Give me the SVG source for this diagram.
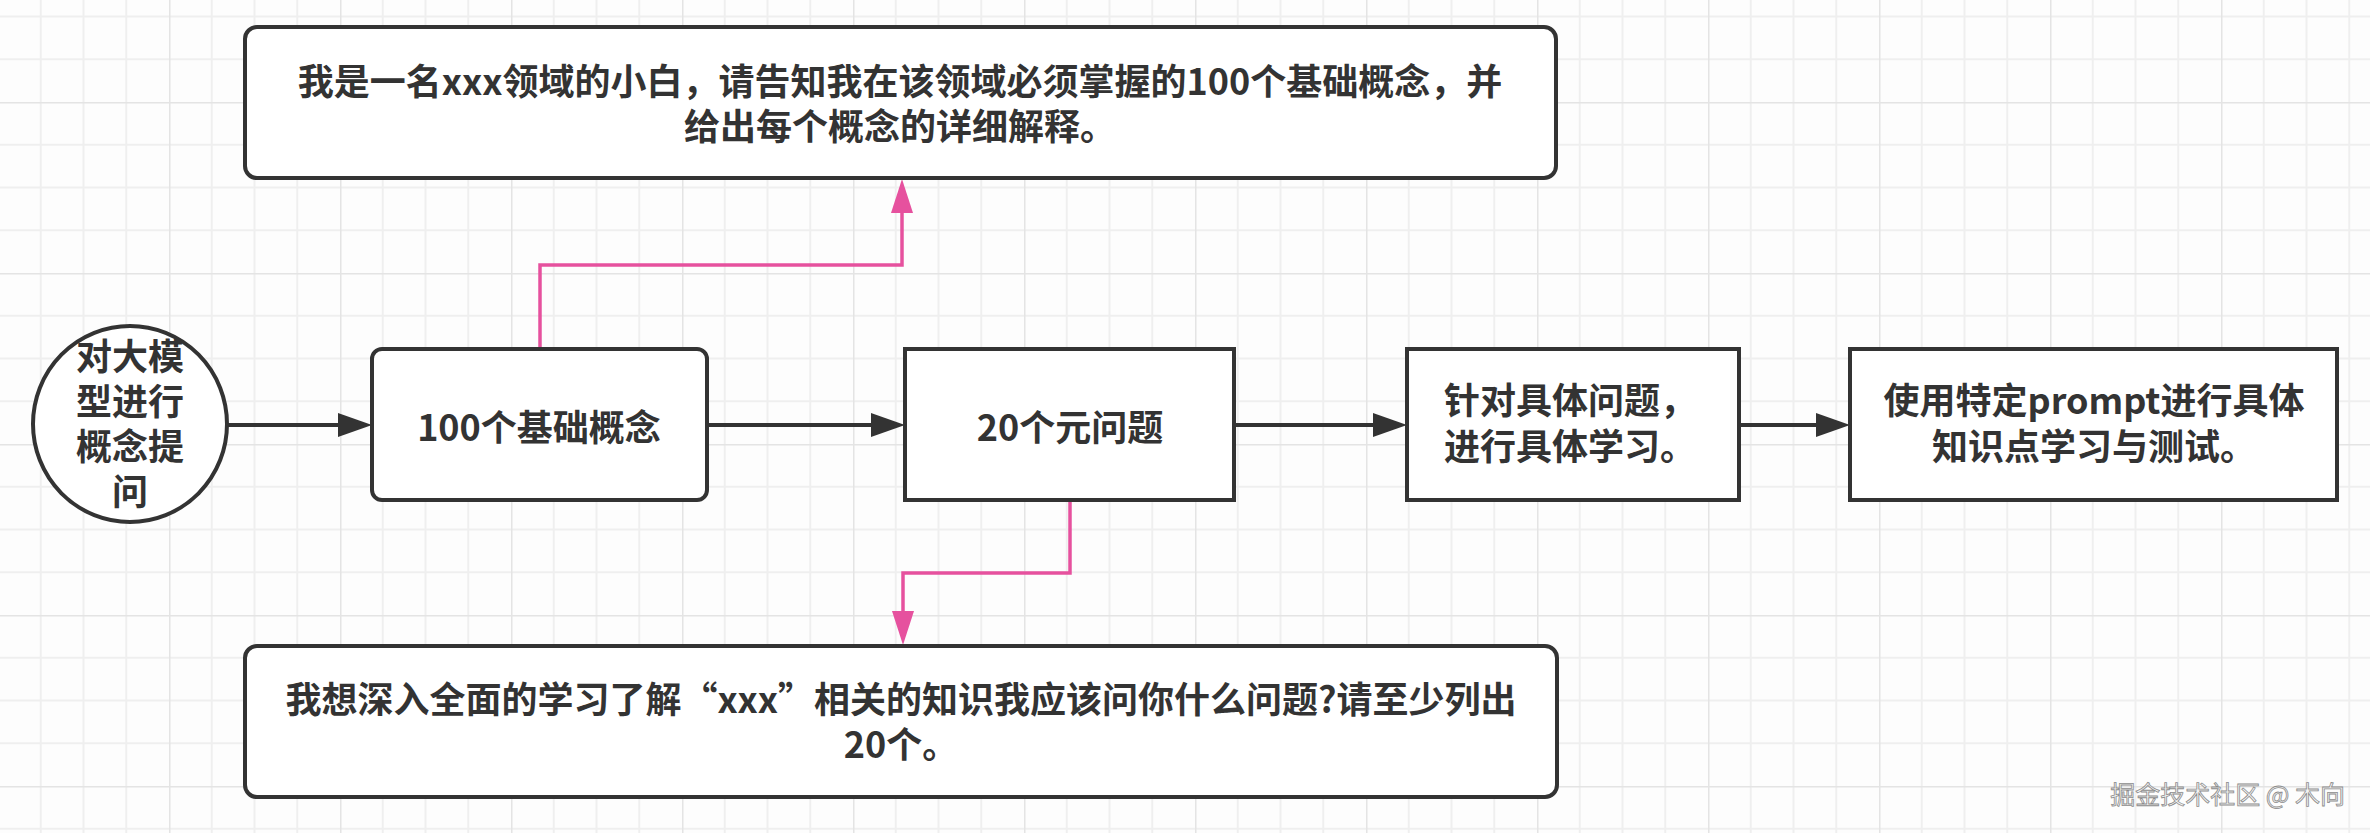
<svg xmlns="http://www.w3.org/2000/svg" width="2370" height="833" viewBox="0 0 2370 833">
<style>
.node{fill:#ffffff;stroke:#333333;stroke-width:4}
.t{font-family:"Noto Sans CJK SC","Noto Sans",sans-serif;font-weight:bold;font-size:36px;fill:#333333;text-anchor:middle}
.dark{fill:none;stroke:#333333;stroke-width:4}
.pink{fill:none;stroke:#E6519E;stroke-width:3.5}
.wm{font-family:"Noto Sans CJK SC","Noto Sans",sans-serif;font-size:25px;fill:#f4f4f4;stroke:#8c8c8c;stroke-width:0.8;text-anchor:end}
</style>
<defs>
<pattern id="grid" patternUnits="userSpaceOnUse" x="-2" y="102" width="171" height="171">
<path d="M42.75,0V171M85.5,0V171M128.25,0V171M0,42.75H171M0,85.5H171M0,128.25H171" stroke="#efefef" stroke-width="2" fill="none"/>
<path d="M0,0V171M0,0H171" stroke="#e4e4e4" stroke-width="3" fill="none"/>
</pattern>
<marker id="ad" markerUnits="userSpaceOnUse" markerWidth="34" markerHeight="24" refX="0" refY="12" orient="auto" overflow="visible">
<path d="M0,0L34,12L0,24z" fill="#333333"/>
</marker>
<marker id="ap" markerUnits="userSpaceOnUse" markerWidth="34" markerHeight="22" refX="0" refY="11" orient="auto" overflow="visible">
<path d="M0,0L34,11L0,22z" fill="#E6519E"/>
</marker>
</defs>
<rect width="2370" height="833" fill="#fdfdfd"/>
<rect width="2370" height="833" fill="url(#grid)"/>
<g id="connectors">
<path class="dark" d="M227,425H338" marker-end="url(#ad)"/>
<path class="dark" d="M707,425H871" marker-end="url(#ad)"/>
<path class="dark" d="M1234,425H1373" marker-end="url(#ad)"/>
<path class="dark" d="M1739,425H1816" marker-end="url(#ad)"/>
<path class="pink" d="M540,348V265H902V213" marker-end="url(#ap)"/>
<path class="pink" d="M1070,500V573H903V611" marker-end="url(#ap)"/>
</g>
<g id="node-top">
<rect class="node" x="245" y="27" width="1311" height="151" rx="12"/>
<text class="t"><tspan x="900" y="95">我是一名xxx领域的小白，请告知我在该领域必须掌握的100个基础概念，并</tspan><tspan x="900" y="140">给出每个概念的详细解释。</tspan></text>
</g>
<g id="node-start">
<ellipse class="node" cx="130" cy="424" rx="97" ry="98"/>
<text class="t"><tspan x="130" y="370">对大模</tspan><tspan x="130" y="415">型进行</tspan><tspan x="130" y="460">概念提</tspan><tspan x="130" y="505">问</tspan></text>
</g>
<g id="node-concepts">
<rect class="node" x="372" y="349" width="335" height="151" rx="10"/>
<text class="t" x="539" y="441">100个基础概念</text>
</g>
<g id="node-meta">
<rect class="node" x="905" y="349" width="329" height="151"/>
<text class="t" x="1070" y="441">20个元问题</text>
</g>
<g id="node-specific">
<rect class="node" x="1407" y="349" width="332" height="151"/>
<text class="t"><tspan x="1570" y="414">针对具体问题，</tspan><tspan x="1570" y="460">进行具体学习。</tspan></text>
</g>
<g id="node-prompt">
<rect class="node" x="1850" y="349" width="487" height="151"/>
<text class="t"><tspan x="2094" y="414">使用特定prompt进行具体</tspan><tspan x="2094" y="460">知识点学习与测试。</tspan></text>
</g>
<g id="node-bottom">
<rect class="node" x="245" y="646" width="1312" height="151" rx="12"/>
<text class="t"><tspan x="901" y="713">我想深入全面的学习了解“xxx”相关的知识我应该问你什么问题?请至少列出</tspan><tspan x="901" y="758">20个。</tspan></text>
</g>
<text class="wm" x="2345" y="804">掘金技术社区 @ 木向</text>
</svg>
